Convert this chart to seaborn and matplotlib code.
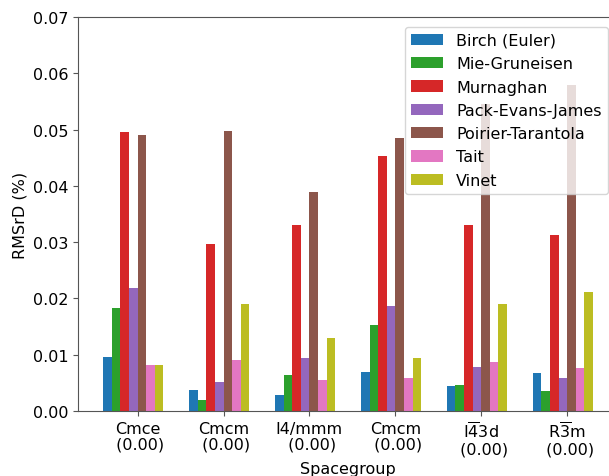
import numpy as np
import pandas as pd
import matplotlib
matplotlib.use("Agg")
import matplotlib.pyplot as plt
import seaborn as sns

spacegroups = ["Cmce", "Cmcm", "I4/mmm", "Cmcm", r"I$\overline{4}$3d", r"R$\overline{3}$m"]
scores = ["0.00", "0.00", "0.00", "0.00", "0.00", "0.00"]
methods = ["Birch (Euler)", "Mie-Gruneisen", "Murnaghan", "Pack-Evans-James",
           "Poirier-Tarantola", "Tait", "Vinet"]

birch = [0.0096, 0.0038, 0.0028, 0.0070, 0.0045, 0.0067]
mie = [0.0183, 0.0020, 0.0064, 0.0153, 0.0047, 0.0035]
murnaghan = [0.0496, 0.0297, 0.0330, 0.0453, 0.0330, 0.0312]
pej = [0.0219, 0.0052, 0.0094, 0.0187, 0.0079, 0.0058]
poirier = [0.0491, 0.0498, 0.0389, 0.0485, 0.0545, 0.0580]
tait = [0.0081, 0.0091, 0.0055, 0.0058, 0.0087, 0.0076]
vinet = [0.0081, 0.0190, 0.0129, 0.0094, 0.0190, 0.0211]

series = [birch, mie, murnaghan, pej, poirier, tait, vinet]
rows = []
for m, vals in zip(methods, series):
    for i, v in enumerate(vals):
        rows.append({"group": i, "method": m, "value": v})
df = pd.DataFrame(rows)

palette = ["tab:blue", "tab:green", "tab:red", "tab:purple", "tab:brown", "tab:pink", "tab:olive"]
FS = 11.5

fig = plt.figure(figsize=(6.09, 4.77), dpi=100)
ax = fig.add_axes([78/609, 1-412/477, (617.4-78)/609, (412-18)/477])
sns.barplot(data=df, x="group", y="value", hue="method", hue_order=methods,
            palette=palette, width=0.7, linewidth=0, saturation=1, ax=ax, errorbar=None)

ax.set_xticks(np.arange(len(spacegroups)) + 0.05)
ax.set_xticklabels([f"{s}\n ({c})" for s, c in zip(spacegroups, scores)],
                   fontsize=FS, linespacing=1.05)
ax.set_xlim(-0.644, 5.635)
ax.set_ylim(0, 0.07)
ax.set_yticks(np.arange(0, 0.0701, 0.01))
ax.set_yticklabels([f"{v:.2f}" for v in np.arange(0, 0.0701, 0.01)], fontsize=FS)
ax.set_xlabel("Spacegroup", fontsize=FS, labelpad=3)
ax.set_ylabel("RMSrD (%)", fontsize=FS)
for sp in ax.spines.values():
    sp.set_color("#555555")
ax.tick_params(colors="#555555", labelcolor="black")
ax.legend(loc="upper right", fontsize=FS, framealpha=0.8, labelspacing=0.52,
          borderaxespad=0.6)
fig.savefig("out.png", dpi=100)
